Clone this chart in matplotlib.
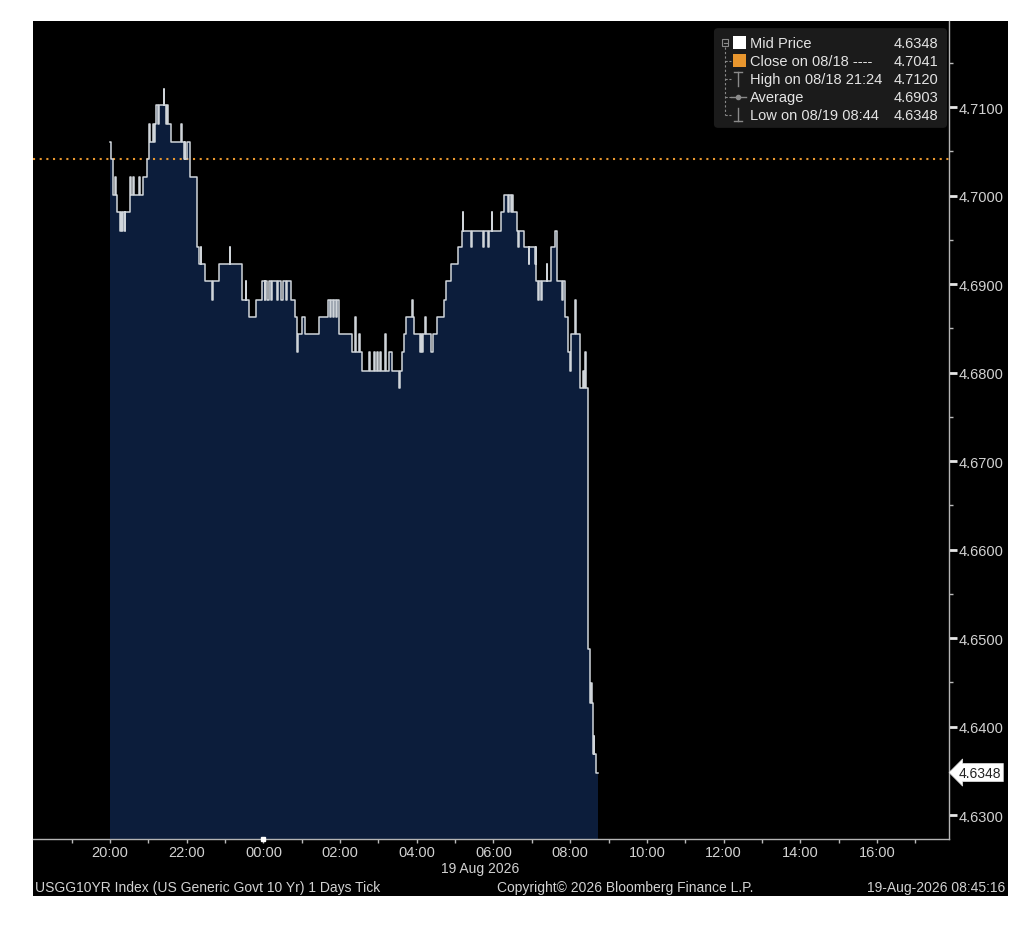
import matplotlib
matplotlib.use('Agg')
import matplotlib.pyplot as plt
from matplotlib.patches import Rectangle, FancyBboxPatch
from matplotlib.lines import Line2D
from matplotlib.ticker import FixedLocator, FuncFormatter

# ---------------- data (minutes after 20:00 on 18 Aug, mid yield) ----------------
tick_minutes = [0, 1, 5, 8, 9, 11, 16, 17, 19, 20, 23, 24, 31, 33, 36, 37, 45, 47, 51, 58,
                61, 62, 67, 69, 70, 72, 75, 76, 84, 85, 87, 89, 90, 96, 111, 112, 115, 117, 118, 120,
                125, 136, 139, 142, 143, 148, 159, 161, 171, 187, 188, 207, 212, 213, 217, 228, 238,
                242, 243, 246, 248, 252, 254, 262, 263, 268, 270, 276, 277, 283, 290, 293, 294, 301,
                305, 327, 341, 344, 346, 349, 351, 354, 355, 358, 379, 384, 385, 390, 391, 394, 405,
                407, 413, 415, 418, 419, 423, 424, 431, 432, 436, 441, 452, 453, 457, 460, 463, 472,
                474, 475, 485, 486, 488, 489, 493, 494, 503, 505, 511, 522, 525, 533, 545, 550, 552,
                553, 565, 566, 584, 585, 592, 593, 597, 598, 612, 617, 623, 624, 628, 629, 631, 637,
                639, 640, 648, 655, 656, 665, 666, 667, 670, 671, 675, 676, 683, 684, 690, 696, 700,
                707, 708, 712, 717, 720, 721, 722, 728, 729, 736, 740, 741, 743, 744, 748, 751, 753,
                754, 755, 757, 758, 760]
mid_price = [4.7061, 4.7041, 4.7001, 4.7021, 4.7001, 4.6981, 4.6960, 4.6981, 4.6960, 4.6981,
             4.6960, 4.6981, 4.7021, 4.7001, 4.7021, 4.7001, 4.7021, 4.7001, 4.7021, 4.7041,
             4.7081, 4.7061, 4.7081, 4.7061, 4.7081, 4.7102, 4.7081, 4.7102, 4.7120, 4.7102,
             4.7081, 4.7102, 4.7081, 4.7061, 4.7081, 4.7061, 4.7041, 4.7061, 4.7041, 4.7061,
             4.7021, 4.6942, 4.6923, 4.6942, 4.6923, 4.6903, 4.6882, 4.6903, 4.6923, 4.6942,
             4.6923, 4.6882, 4.6903, 4.6882, 4.6863, 4.6882, 4.6903, 4.6882, 4.6903, 4.6882,
             4.6903, 4.6882, 4.6903, 4.6882, 4.6903, 4.6882, 4.6903, 4.6882, 4.6903, 4.6882,
             4.6863, 4.6823, 4.6843, 4.6863, 4.6843, 4.6863, 4.6882, 4.6863, 4.6882, 4.6863,
             4.6882, 4.6863, 4.6882, 4.6843, 4.6823, 4.6863, 4.6823, 4.6843, 4.6823, 4.6802,
             4.6823, 4.6802, 4.6823, 4.6802, 4.6823, 4.6802, 4.6823, 4.6802, 4.6843, 4.6802,
             4.6823, 4.6802, 4.6783, 4.6802, 4.6823, 4.6843, 4.6863, 4.6882, 4.6863, 4.6843,
             4.6823, 4.6843, 4.6823, 4.6843, 4.6863, 4.6843, 4.6823, 4.6843, 4.6863, 4.6882,
             4.6903, 4.6923, 4.6942, 4.6960, 4.6981, 4.6960, 4.6942, 4.6960, 4.6942, 4.6960,
             4.6942, 4.6960, 4.6981, 4.6960, 4.6981, 4.7001, 4.6981, 4.7001, 4.6981, 4.7001,
             4.6981, 4.6960, 4.6942, 4.6960, 4.6942, 4.6923, 4.6942, 4.6923, 4.6942, 4.6903,
             4.6882, 4.6903, 4.6882, 4.6903, 4.6923, 4.6903, 4.6942, 4.6960, 4.6903, 4.6882,
             4.6903, 4.6863, 4.6823, 4.6802, 4.6823, 4.6843, 4.6882, 4.6843, 4.6783, 4.6802,
             4.6783, 4.6823, 4.6783, 4.6488, 4.6427, 4.6449, 4.6427, 4.6369, 4.6389, 4.6369,
             4.6348]
end_minute = 763

prev_close = 4.7041
last_price = 4.6348

legend_labels = ["Mid Price", "Close on 08/18 ----", "High on 08/18 21:24", "Average", "Low on 08/19 08:44"]
legend_values = ["4.6348", "4.7041", "4.7120", "4.6903", "4.6348"]

ytick_values = [4.63, 4.64, 4.65, 4.66, 4.67, 4.68, 4.69, 4.70, 4.71]
xtick_minutes = [0, 120, 240, 360, 480, 600, 720, 840, 960, 1080, 1200]
xtick_labels = ["20:00", "22:00", "00:00", "02:00", "04:00", "06:00", "08:00",
                "10:00", "12:00", "14:00", "16:00"]
xminor_minutes = [-60, 60, 180, 300, 420, 540, 660, 780, 900, 1020, 1140, 1260]

footer_left = "USGG10YR Index (US Generic Govt 10 Yr) 1 Days Tick"
footer_mid = "Copyright\u00a9 2026 Bloomberg Finance L.P."
footer_right = "19-Aug-2026 08:45:16"
date_label = "19 Aug 2026"

# ---------------- styling ----------------
FONT = ['Liberation Sans', 'DejaVu Sans']
TXT = '#d2d2d2'
NAVY = '#0c1d3b'
LINE = '#d0d5da'
ORANGE = '#e8962e'

W, H = 1024, 929
fig = plt.figure(figsize=(W / 100, H / 100), dpi=100, facecolor='white')


def fx(x):
    return x / W


def fy(y):
    return 1 - y / H


fig.patches.append(Rectangle((fx(33), fy(897)), fx(1008) - fx(33), fy(22) - fy(897),
                             transform=fig.transFigure, facecolor='black',
                             edgecolor='none', zorder=-10))

ax = fig.add_axes([fx(33), fy(840), fx(949) - fx(33), fy(22) - fy(840)])
ax.set_facecolor('black')

t = tick_minutes + [end_minute]
v = mid_price + [mid_price[-1]]
ymin, ymax = 4.62729, 4.71972
ax.fill_between(t, v, ymin, step='post', color=NAVY, linewidth=0, zorder=1)
ax.step(t, v, where='post', color=LINE, linewidth=1.1, zorder=3)
ax.axhline(prev_close, color=ORANGE, linestyle=(0, (1, 2.2)), linewidth=1.5, zorder=2)

ax.set_xlim(-120.5, 1312.7)
ax.set_ylim(ymin, ymax)

for s in ['left', 'top']:
    ax.spines[s].set_visible(False)
for s in ['right', 'bottom']:
    ax.spines[s].set_color('#b4b4b4')
    ax.spines[s].set_linewidth(1.0)

ax.yaxis.tick_right()
ax.yaxis.set_major_locator(FixedLocator(ytick_values))
ax.yaxis.set_minor_locator(FixedLocator([y + 0.005 for y in ytick_values]))
ax.yaxis.set_major_formatter(FuncFormatter(lambda y, p: f"{y:.4f}"))
ax.tick_params(axis='y', which='major', direction='out', length=6, width=2.0,
               colors='#e6e6e6', labelcolor=TXT, labelsize=10.5, pad=1)
ax.tick_params(axis='y', which='minor', direction='out', length=3, width=1.0, colors='#bbbbbb')

ax.xaxis.set_major_locator(FixedLocator(xtick_minutes))
ax.xaxis.set_minor_locator(FixedLocator(xminor_minutes))
ax.set_xticklabels(xtick_labels)
ax.tick_params(axis='x', which='major', direction='out', length=3, width=1.0,
               colors='#bbbbbb', labelcolor=TXT, labelsize=10.5, pad=1.5)
ax.tick_params(axis='x', which='minor', direction='out', length=3, width=1.0, colors='#bbbbbb')
for lab in ax.get_xticklabels() + ax.get_yticklabels():
    lab.set_family(FONT)

# midnight marker
ax.plot([240], [ymin], marker='s', markersize=3, color='white', clip_on=False, zorder=5)

# last price tag
ax.annotate(f"{last_price:.4f}", xy=(1.0, last_price), xycoords=('axes fraction', 'data'),
            xytext=(7, 0), textcoords='offset points', va='center', ha='left',
            fontsize=10, family=FONT, color='#222222', annotation_clip=False,
            bbox=dict(boxstyle='larrow,pad=0.15', fc='white', ec='#dddddd', lw=0.5))

# ---------------- legend box ----------------
fig.patches.append(FancyBboxPatch((fx(716), fy(127)), fx(945) - fx(716), fy(31) - fy(127),
                                  boxstyle='round,pad=0.002,rounding_size=0.004',
                                  transform=fig.transFigure, facecolor='#1b1b1b',
                                  edgecolor='none', zorder=4))
rows_y = [44, 62, 80, 98, 116]
gray = '#8a8a8a'
# tree
fig.add_artist(Rectangle((fx(722), fy(47)), fx(6), 7 / H, transform=fig.transFigure,
                         fill=False, edgecolor=gray, lw=0.8, zorder=6))
fig.add_artist(Line2D([fx(723.5), fx(726.5)], [fy(43.5)] * 2, transform=fig.transFigure,
                      color=gray, lw=0.8, zorder=6))
fig.add_artist(Line2D([fx(725)] * 2, [fy(48), fy(116)], transform=fig.transFigure,
                      color=gray, lw=0.8, linestyle=(0, (2, 2)), zorder=6))
for ry in rows_y[1:]:
    fig.add_artist(Line2D([fx(725), fx(731)], [fy(ry)] * 2, transform=fig.transFigure,
                          color=gray, lw=0.8, linestyle=(0, (2, 1.5)), zorder=6))
# icons
fig.add_artist(Rectangle((fx(733), fy(50)), 13 / W, 13 / H, transform=fig.transFigure,
                         facecolor='white', edgecolor='none', zorder=6))
fig.add_artist(Rectangle((fx(733), fy(68)), 13 / W, 13 / H, transform=fig.transFigure,
                         facecolor=ORANGE, edgecolor='none', zorder=6))
fig.add_artist(Line2D([fx(734), fx(742)], [fy(73)] * 2, transform=fig.transFigure,
                      color=gray, lw=1, zorder=6))
fig.add_artist(Line2D([fx(738)] * 2, [fy(73), fy(87)], transform=fig.transFigure,
                      color=gray, lw=1, zorder=6))
fig.add_artist(Line2D([fx(731), fx(746)], [fy(98)] * 2, transform=fig.transFigure,
                      color=gray, lw=1, zorder=6))
fig.add_artist(Line2D([fx(738)], [fy(98)], transform=fig.transFigure,
                      color=gray, marker='o', markersize=3, zorder=6))
fig.add_artist(Line2D([fx(738)] * 2, [fy(109), fy(122)], transform=fig.transFigure,
                      color=gray, lw=1, zorder=6))
fig.add_artist(Line2D([fx(734), fx(742)], [fy(122)] * 2, transform=fig.transFigure,
                      color=gray, lw=1, zorder=6))

for ry, lab, val in zip(rows_y, legend_labels, legend_values):
    fig.text(fx(750), fy(ry), lab, ha='left', va='center', fontsize=10.5, family=FONT,
             color='#e4e4e4', zorder=7)
    fig.text(fx(938), fy(ry), val, ha='right', va='center', fontsize=10.5, family=FONT,
             color='#e4e4e4', zorder=7)

# ---------------- footer ----------------
fig.text(fx(480), fy(869), date_label, ha='center', va='center', fontsize=10, family=FONT, color=TXT)
fig.text(fx(35), fy(888), footer_left, ha='left', va='center', fontsize=10, family=FONT, color=TXT)
fig.text(fx(625), fy(888), footer_mid, ha='center', va='center', fontsize=10, family=FONT, color=TXT)
fig.text(fx(1005), fy(888), footer_right, ha='right', va='center', fontsize=10, family=FONT, color=TXT)

fig.savefig('out.png', dpi=100, facecolor='white')
